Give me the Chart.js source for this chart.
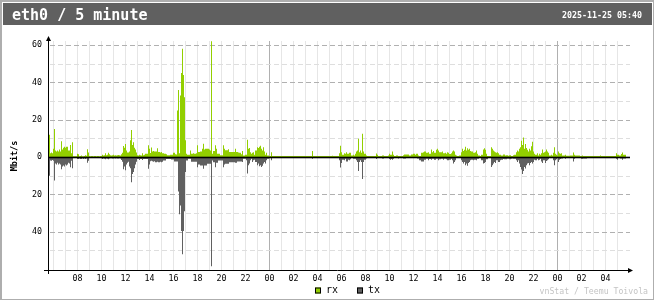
<!DOCTYPE html>
<html>
<head>
<meta charset="utf-8">
<script src="https://cdn.jsdelivr.net/npm/chart.js@4/dist/chart.umd.min.js"></script>
<style>
  html, body { margin: 0; padding: 0; background: #ffffff; }
  canvas { display: block; }
</style>
</head>
<body>
<canvas id="graph" width="654" height="300"></canvas>
<script>
// vnStat style 5 minute graph, eth0, 48 hours ending 2025-11-25 05:40

const interfaceTitle = 'eth0 / 5 minute';
const dateText = '2025-11-25 05:40';
const creditText = 'vnStat / Teemu Toivola';
const unitLabel = 'Mbit/s';

// first slot of the graph and slot length
const startHour = 5;
const startMinute = 40;
const slotMinutes = 5;

// hours that get a tick label under the x axis
const tickHours = ['00', '02', '04', '06', '08', '10', '12', '14', '16', '18', '20', '22'];

// y axis range (Mbit/s), rx up and tx down
const yMax = 62.2;
const yMin = -60.5;

// received, Mbit/s per 5 minutes
const rx = [
    12, 2, 2.5, 2, 4.5, 15, 3.5, 3, 3.5, 3,
    4, 3, 8.5, 4, 5, 5.5, 5, 5.5, 5.5, 3.5,
    3.5, 6.5, 2, 8, 0.5, 0.5, 0.5, 0.5, 1.8, 1.5,
    0.5, 0.6, 0.8, 0.5, 0.5, 0.6, 1, 0.7, 4.2, 2.5,
    0.6, 0.5, 0.6, 0.6, 0.5, 0.6, 0.6, 0.5, 0.6, 0.6,
    0.5, 0.6, 0.6, 1.2, 0.8, 1, 2, 1, 1.2, 2.3,
    1.5, 1, 0.8, 1, 1.2, 0.8, 1, 0.9, 1, 1.1,
    1, 0.9, 1.5, 2.3, 6, 5, 7, 3.5, 2.5, 2.5,
    3, 9, 14.5, 6.5, 8, 5, 4, 2.5, 1, 0.8,
    1.2, 1, 0.9, 2, 1, 1.2, 1.8, 1.8, 1.8, 6.3,
    4.5, 2.2, 5.2, 3, 3.2, 3, 3, 3, 4.8, 2.7,
    2.7, 2.5, 2.7, 2, 2, 1.8, 1.8, 1.5, 1, 1,
    1, 1.2, 1.3, 1.2, 2.3, 2.3, 1.5, 1.4, 25, 36,
    2, 33, 45, 58, 44, 32, 9, 1.8, 1.2, 1.2,
    1.3, 3.5, 1.8, 1.8, 2, 1.8, 1.8, 2, 6.3, 2.7,
    2.7, 3, 3, 4.5, 7.2, 4, 4.5, 4.5, 4.5, 4.5,
    4, 3.5, 62, 1.8, 3.2, 3.2, 6.3, 4.5, 1.8, 1.8,
    1.8, 1, 1, 1, 6.3, 4.5, 3.6, 3.6, 3.6, 4.2,
    2.7, 2.7, 2.7, 2.7, 2.7, 2.7, 4.5, 2.7, 2.7, 2.5,
    2.3, 2.3, 1.5, 3.2, 0.9, 0.9, 1.2, 1.2, 9.3, 4.4,
    4.9, 2.6, 1.75, 2.3, 2.6, 1.2, 3.5, 3.5, 5.3, 4.9,
    5.6, 6.1, 4.4, 3.5, 5.3, 3, 1.2, 2.3, 0.9, 0.9,
    0.6, 0.6, 2.6, 0.6, 0.6, 0.6, 0.6, 0.6, 0.6, 0.6,
    0.6, 0.6, 0.6, 0.6, 0.6, 0.6, 0.6, 0.6, 0.6, 0.6,
    0.6, 0.6, 0.6, 0.6, 0.6, 0.6, 0.6, 0.6, 0.6, 0.6,
    0.6, 0.6, 0.6, 0.6, 0.6, 0.6, 0.6, 0.6, 0.6, 0.6,
    0.6, 0.6, 0.6, 3.2, 0.6, 0.6, 0.6, 0.6, 0.6, 0.6,
    0.6, 0.6, 0.6, 0.6, 0.6, 0.6, 0.6, 0.6, 0.6, 0.6,
    0.6, 0.6, 0.6, 0.7, 0.6, 0.6, 0.6, 0.6, 0.6, 0.6,
    2, 6.1, 2.6, 1.2, 1.2, 2.1, 1.75, 2.6, 1.75, 1.75,
    2.3, 2.3, 0.9, 0.9, 1.2, 0.9, 1.75, 3, 3.5, 9.8,
    2.6, 3.5, 2.3, 12.5, 3, 1.75, 1.75, 0.9, 0.6, 0.6,
    0.6, 0.6, 0.6, 0.6, 0.6, 0.6, 0.6, 1.9, 1.2, 0.6,
    0.6, 0.6, 0.6, 0.9, 0.9, 0.6, 0.6, 0.6, 0.6, 0.9,
    1.75, 1.2, 1.2, 3, 1.2, 0.6, 0.6, 0.9, 0.9, 0.6,
    0.6, 0.6, 0.6, 0.6, 1.05, 1.4, 1.4, 1.4, 1.4, 1.4,
    0.9, 0.9, 1.4, 1.4, 1.75, 1.75, 1.2, 1.75, 1.75, 0.9,
    0.6, 0.6, 2.3, 2.3, 2.6, 3, 3, 2.3, 2.3, 2.6,
    1.75, 1.75, 4, 2.6, 3.3, 2.3, 2.3, 3.9, 4.4, 3.5,
    2.6, 2.6, 2.6, 3, 2.1, 2.1, 2.3, 1.75, 2.6, 2.3,
    1.6, 1.6, 2.1, 3, 3.5, 3, 1.2, 0.9, 0.6, 0.6,
    0.9, 0.9, 2.6, 4.4, 3.3, 3.9, 5.6, 3.5, 4.7, 3.9,
    4.4, 3.3, 3, 3, 2.3, 2.3, 2.6, 3.5, 1.75, 0.9,
    0.9, 0.6, 1.2, 1.2, 4, 4.7, 3.9, 1.75, 0.6, 0.6,
    0.6, 0.6, 5.3, 4.4, 3.5, 3, 2.6, 2.3, 2.6, 2.1,
    1.2, 1.2, 0.9, 0.9, 1.4, 1.4, 0.9, 1.05, 1.05, 0.7,
    1.05, 1.05, 0.6, 0.6, 1.05, 1.2, 1.2, 2.6, 3.5, 3,
    4.4, 5.3, 8.8, 6.5, 10.5, 4.4, 7, 4.9, 3.9, 3,
    4.4, 3.5, 5.8, 8.2, 3, 1.75, 1.2, 1.2, 2.1, 0.9,
    1.75, 1.2, 2.1, 4, 2.3, 2.6, 3, 4, 3, 2.3,
    0.9, 0.9, 1.2, 0.9, 2.3, 5.3, 1.75, 1.2, 0.9, 3,
    2.1, 1.75, 2.1, 0.9, 0.9, 0.9, 1.2, 0.7, 0.7, 0.7,
    0.7, 0.9, 0.9, 0.9, 2.5, 1.2, 0.9, 0.9, 0.9, 0.9,
    0.9, 0.6, 0.6, 0.9, 0.6, 0.6, 0.6, 0.6, 0.6, 0.6,
    0.6, 0.6, 0.6, 0.6, 0.6, 0.6, 0.6, 0.6, 0.6, 0.6,
    0.6, 0.9, 0.6, 0.6, 0.6, 0.6, 0.6, 0.6, 0.6, 0.6,
    0.6, 0.6, 0.6, 0.6, 0.6, 0.6, 0.6, 2.1, 1.2, 1.2,
    0.9, 0.9, 1.6, 2.5, 1.2, 1.2, 1.2
];

// transmitted, Mbit/s per 5 minutes (drawn downwards)
const tx = [
    10, 1.8, 2, 1.5, 2, 12.5, 3.5, 4, 3, 4,
    3.5, 4, 6.5, 5, 4.5, 5, 4, 4.5, 4, 3,
    3.5, 5.5, 2, 6, 0.5, 0.5, 0.5, 0.5, 1, 1,
    0.8, 1, 1, 0.8, 1, 0.8, 1, 0.8, 3, 2,
    0.5, 0.5, 0.5, 0.5, 0.5, 0.5, 0.5, 0.5, 0.5, 0.5,
    0.5, 0.5, 0.6, 1, 0.8, 0.9, 1.2, 0.8, 0.9, 1.2,
    0.8, 0.6, 0.6, 0.7, 0.8, 0.6, 0.7, 0.6, 0.8, 0.7,
    0.6, 0.8, 1.5, 2.5, 6.5, 5, 7, 4, 3, 2.5,
    5, 6, 13.5, 9, 8, 6, 4, 2.5, 1, 1,
    1.5, 1, 1, 1.5, 1, 1, 1, 1, 1, 6.3,
    4, 2.2, 2, 2.2, 2.5, 2.2, 2.7, 2.7, 2.5, 2.7,
    2.7, 2.5, 2.7, 2.5, 1.8, 1.8, 1.8, 1, 1, 1,
    1, 1, 1.3, 1.3, 1.3, 2.3, 2.3, 2.3, 2.3, 18.5,
    30.6, 26, 39.6, 52, 39.6, 29, 8, 1.8, 1.8, 0.9,
    0.9, 0.9, 2.5, 2.5, 2.5, 2.5, 2.5, 2.5, 5.4, 4,
    4, 4.5, 4.5, 4.5, 6.3, 4.5, 4.5, 4.5, 3.6, 3.6,
    3.6, 3.6, 58.5, 1.8, 2.7, 2.7, 5.4, 3.1, 3.1, 1.8,
    1.8, 1.8, 1.8, 1.8, 5.4, 4, 3.6, 3.6, 3.6, 3.6,
    2.7, 2.7, 2.7, 2.7, 2.7, 2.7, 3.1, 3.1, 2.3, 2.3,
    2.3, 2.3, 2.3, 2.6, 0.9, 0.9, 0.9, 1.75, 8.8, 4.4,
    3.5, 1.75, 0.9, 2.6, 1.75, 1.4, 2.6, 2.6, 4.4, 3.5,
    4.9, 4.4, 5.3, 4.7, 3.5, 2.6, 3.5, 1.75, 0.9, 0.9,
    0.5, 0.5, 1.75, 0.2, 0.2, 0.2, 0.2, 0.2, 0.2, 0.2,
    0.2, 0.2, 0.2, 0.2, 0.2, 0.2, 0.2, 0.2, 0.2, 0.2,
    0.2, 0.2, 0.2, 0.2, 0.2, 0.2, 0.2, 0.2, 0.2, 0.2,
    0.2, 0.2, 0.2, 0.2, 0.2, 0.2, 0.2, 0.2, 0.2, 0.2,
    0.2, 0.2, 0.5, 0.9, 0.2, 0.2, 0.2, 0.2, 0.2, 0.2,
    0.2, 0.2, 0.2, 0.2, 0.2, 0.2, 0.2, 0.2, 0.2, 0.2,
    0.2, 0.2, 0.2, 0.5, 0.2, 0.2, 0.2, 0.2, 0.2, 0.2,
    1.75, 5.6, 3.2, 1.4, 1.4, 1.75, 0.9, 2.3, 2.3, 1.4,
    1.75, 1.2, 0.5, 0.5, 0.9, 0.9, 0.9, 1.75, 2.6, 7.4,
    2.6, 1.75, 2.6, 11.8, 2.6, 1.4, 1.4, 0.7, 0.2, 0.2,
    0.2, 0.2, 0.2, 0.2, 0.2, 0.2, 0.2, 1.05, 0.5, 0.35,
    0.35, 0.35, 0.35, 0.7, 0.7, 0.35, 0.35, 0.35, 0.35, 0.5,
    1.05, 1.4, 1.05, 1.4, 0.9, 0.35, 0.35, 0.35, 0.35, 0.7,
    0.35, 0.35, 0.35, 0.35, 0.7, 0.7, 0.7, 0.5, 0.5, 0.5,
    0.35, 0.35, 0.5, 0.5, 0.5, 0.35, 0.35, 0.35, 0.7, 0.7,
    1.75, 1.75, 2.3, 2.3, 2.3, 1.4, 1.4, 0.9, 0.9, 1.75,
    1.05, 1.05, 1.4, 0.9, 0.9, 1.4, 1.4, 0.9, 0.9, 1.75,
    1.2, 1.2, 0.9, 0.9, 1.4, 0.9, 0.9, 1.2, 1.75, 1.75,
    1.4, 1.4, 0.9, 1.75, 3.5, 2.6, 1.75, 0.5, 0.5, 0.5,
    0.5, 0.5, 1.75, 2.6, 3.5, 2.6, 4.4, 3.5, 4.7, 3.2,
    2.6, 1.75, 1.4, 1.4, 1.75, 1.4, 1.4, 1.75, 0.9, 0.9,
    0.5, 0.5, 1.75, 1.75, 3.5, 3.2, 2.6, 1.2, 1.2, 0.5,
    0.5, 0.5, 5.3, 4.4, 3.5, 2.6, 3.2, 1.75, 1.75, 2.6,
    2.6, 1.75, 1.4, 1.4, 1.05, 1.2, 1.2, 1.2, 0.9, 0.9,
    1.2, 1.2, 0.9, 0.7, 0.9, 0.9, 0.9, 1.75, 2.6, 1.75,
    3.5, 5.3, 6.7, 9.1, 7.4, 5.3, 6.1, 4.4, 3.5, 3.2,
    4.4, 3.2, 2.6, 3.5, 2.6, 1.4, 1.75, 1.75, 0.9, 1.75,
    1.4, 0.9, 2.3, 3.2, 1.75, 1.75, 3.2, 2.1, 1.75, 1.2,
    0.5, 0.5, 0.5, 0.5, 1.75, 4.4, 1.75, 1.2, 0.5, 2.6,
    1.4, 1.05, 0.7, 0.7, 0.5, 0.5, 0.9, 0.5, 0.5, 0.5,
    0.5, 0.5, 0.5, 0.5, 2.3, 0.9, 0.5, 0.5, 0.5, 0.5,
    0.5, 0.5, 0.9, 0.9, 0.7, 0.7, 0.7, 0.7, 0.35, 0.35,
    0.35, 0.2, 0.2, 0.2, 0.2, 0.2, 0.2, 0.2, 0.2, 0.2,
    0.2, 0.5, 0.2, 0.2, 0.2, 0.2, 0.5, 0.2, 0.2, 0.2,
    0.5, 0.2, 0.2, 0.2, 0.2, 0.2, 0.2, 0.9, 1.4, 0.5,
    0.5, 0.7, 0.7, 1.4, 0.7, 0.7, 0.7
];

// vnStat default colours
const colors = {
    edge: '#AEAEAE',
    background: '#FFFFFF',
    header: '#606060',
    headerText: '#FFFFFF',
    text: '#000000',
    line: '#B0B0B0',
    lineLight: '#DEDEDE',
    hourLine: '#E6E6E6',
    credit: '#C4C4C4',
    rx: '#92CF00',
    tx: '#606060'
};

const smallFont = '"DejaVu Sans Mono", "Liberation Mono", monospace';

function pad2(n) {
    return String(n).padStart(2, '0');
}

// Time of day label for every 5 minute slot
const slots = rx.map((v, i) => {
    const m = (startHour * 60 + startMinute + i * slotMinutes) % 1440;
    return pad2(Math.floor(m / 60)) + ':' + pad2(m % 60);
});

if (rx.length !== tx.length) {
    console.log('rx/tx length mismatch', rx.length, tx.length);
}

// Frame, header, grid, axes and legend drawn around the bars
const vnstatFrame = {
    id: 'vnstatFrame',
    beforeDraw(chart) {
        const ctx = chart.ctx;
        const w = chart.width;
        const h = chart.height;
        ctx.save();
        ctx.fillStyle = colors.edge;
        ctx.fillRect(0, 0, w, h);
        ctx.fillStyle = colors.background;
        ctx.fillRect(2, 2, w - 3, h - 3);
        ctx.fillStyle = colors.header;
        ctx.fillRect(3, 3, w - 5, 22);

        ctx.fillStyle = colors.headerText;
        ctx.textBaseline = 'alphabetic';
        ctx.textAlign = 'left';
        ctx.font = 'bold 15px ' + smallFont;
        ctx.fillText(interfaceTitle, 12, 20);
        ctx.textAlign = 'right';
        ctx.font = 'bold 8.3px ' + smallFont;
        ctx.fillText(dateText, 642, 17.5);
        ctx.restore();
    },
    beforeDatasetsDraw(chart) {
        const ctx = chart.ctx;
        const area = chart.chartArea;
        const xs = chart.scales.x;
        const ys = chart.scales.y;
        ctx.save();

        // hour lines, darker at midnight
        slots.forEach((s, i) => {
            if (s.slice(3) !== '00') return;
            const x = Math.round(xs.getPixelForValue(i) - 0.5) + 0.5;
            ctx.strokeStyle = s === '00:00' ? colors.line : colors.hourLine;
            ctx.lineWidth = 1;
            ctx.beginPath();
            ctx.moveTo(x, area.top);
            ctx.lineTo(x, area.bottom);
            ctx.stroke();
        });

        // dashed value lines every 10 Mbit/s
        ctx.setLineDash([5, 3]);
        ys.ticks.forEach(t => {
            if (t.value === 0 || t.value <= yMin + 1) return;
            const y = Math.round(ys.getPixelForValue(t.value)) + 0.5;
            ctx.strokeStyle = t.value % 20 === 0 ? colors.line : colors.lineLight;
            ctx.beginPath();
            ctx.moveTo(area.left + 1, y);
            ctx.lineTo(area.right + 4, y);
            ctx.stroke();
        });
        ctx.restore();
    },
    afterDatasetsDraw(chart) {
        const ctx = chart.ctx;
        const area = chart.chartArea;
        const ys = chart.scales.y;
        const zero = ys.getPixelForValue(0);
        const axisX = area.left - 0.5;
        ctx.save();
        ctx.fillStyle = colors.text;

        // zero line
        ctx.fillRect(area.left - 1, zero - 0.4, area.right - area.left + 5, 1.6);

        // axes with arrows
        ctx.strokeStyle = colors.text;
        ctx.lineWidth = 1;
        ctx.beginPath();
        ctx.moveTo(axisX, area.bottom + 4);
        ctx.lineTo(axisX, area.top - 3);
        ctx.moveTo(area.left - 5, area.bottom + 0.5);
        ctx.lineTo(area.right + 5, area.bottom + 0.5);
        ctx.stroke();

        ctx.beginPath();
        ctx.moveTo(axisX, area.top - 5);
        ctx.lineTo(axisX - 2.5, area.top);
        ctx.lineTo(axisX + 2.5, area.top);
        ctx.closePath();
        ctx.fill();
        ctx.beginPath();
        ctx.moveTo(area.right + 7, area.bottom + 0.5);
        ctx.lineTo(area.right + 2, area.bottom - 2);
        ctx.lineTo(area.right + 2, area.bottom + 3);
        ctx.closePath();
        ctx.fill();
        ctx.restore();
    },
    afterDraw(chart) {
        const ctx = chart.ctx;
        const area = chart.chartArea;
        ctx.save();

        // unit label
        ctx.fillStyle = colors.text;
        ctx.font = 'bold 8.5px ' + smallFont;
        ctx.textAlign = 'center';
        ctx.textBaseline = 'middle';
        ctx.translate(14.5, (area.top + area.bottom) / 2 + 0.5);
        ctx.rotate(-Math.PI / 2);
        ctx.fillText(unitLabel, 0, 0);
        ctx.setTransform(1, 0, 0, 1, 0, 0);

        // legend
        const legendX = [315, 357];
        ctx.font = '10px ' + smallFont;
        ctx.textAlign = 'left';
        ctx.textBaseline = 'middle';
        chart.data.datasets.forEach((ds, i) => {
            const x = legendX[i];
            ctx.fillStyle = ds.backgroundColor;
            ctx.fillRect(x, 287.5, 6, 6);
            ctx.strokeStyle = colors.text;
            ctx.lineWidth = 1;
            ctx.strokeRect(x + 0.5, 288, 5, 5);
            ctx.fillStyle = colors.text;
            ctx.fillText(ds.label, x + 11, 290.5);
        });

        // credit
        ctx.fillStyle = colors.credit;
        ctx.font = '8.2px ' + smallFont;
        ctx.textAlign = 'right';
        ctx.textBaseline = 'alphabetic';
        ctx.fillText(creditText, 648, 293.5);
        ctx.restore();
    }
};

const tickFont = { family: smallFont, size: 8.3 };

new Chart(document.getElementById('graph'), {
    type: 'bar',
    data: {
        labels: slots,
        datasets: [{
            label: 'rx',
            data: rx,
            backgroundColor: colors.rx
        }, {
            label: 'tx',
            data: tx.map(v => -v),
            backgroundColor: colors.tx
        }]
    },
    options: {
        responsive: false,
        animation: false,
        devicePixelRatio: 1,
        events: [],
        layout: {
            padding: { left: 0, top: 41, right: 28, bottom: 0 }
        },
        datasets: {
            bar: {
                barPercentage: 1,
                categoryPercentage: 1,
                borderWidth: 0,
                inflateAmount: 0
            }
        },
        plugins: {
            legend: { display: false },
            tooltip: { enabled: false },
            title: { display: false }
        },
        scales: {
            x: {
                stacked: true,
                grid: { display: false, drawTicks: false },
                border: { display: false },
                ticks: {
                    autoSkip: false,
                    maxRotation: 0,
                    minRotation: 0,
                    padding: 4,
                    color: colors.text,
                    font: tickFont,
                    callback: function (value, index) {
                        const s = slots[index];
                        const hh = s.slice(0, 2);
                        if (index < 12 || s.slice(3) !== '00' || !tickHours.includes(hh)) return null;
                        return hh;
                    }
                },
                afterFit: scale => { scale.height = 30; }
            },
            y: {
                stacked: true,
                min: yMin,
                max: yMax,
                grid: { display: false, drawTicks: false },
                border: { display: false },
                ticks: {
                    stepSize: 10,
                    maxTicksLimit: 20,
                    includeBounds: false,
                    padding: 7,
                    color: colors.text,
                    font: tickFont,
                    callback: function (value) {
                        if (value % 20 !== 0 || value < -50) return '';
                        return String(Math.abs(value));
                    }
                },
                afterFit: scale => { scale.width = 49; }
            }
        }
    },
    plugins: [vnstatFrame]
});
</script>
</body>
</html>
